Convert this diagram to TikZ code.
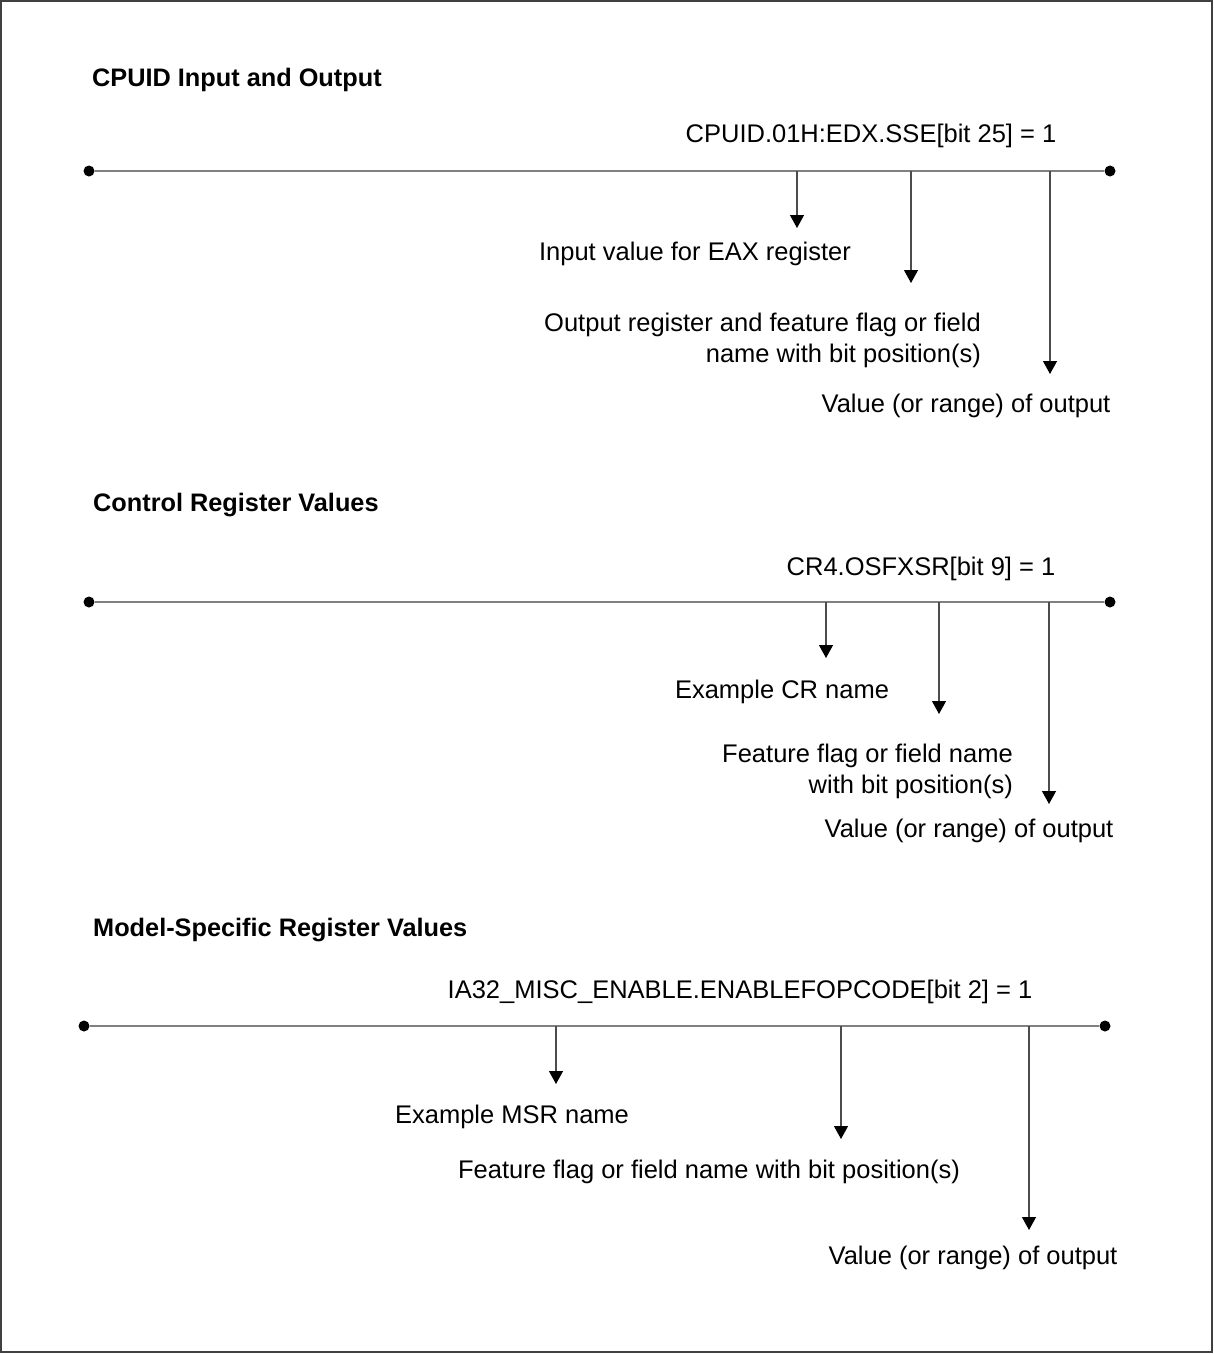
\documentclass[tikz,border=0pt]{standalone}
\usepackage{fontspec}
\setmainfont{Liberation Sans}
\usetikzlibrary{arrows.meta}
\usetikzlibrary{positioning}

\tikzset{
  lbl/.style={font=\fontsize{25.5}{31}\selectfont, inner sep=0pt},
  ttl/.style={font=\fontsize{25.3}{31}\selectfont\bfseries, inner sep=0pt, anchor=base west},
  bar/.style={draw=black!50, line width=1.6pt},
  pin/.style={draw=black!70, line width=1.2pt, -{Triangle[length=13pt,width=14pt,color=black]}},
  dot/.style={circle, fill=black, inner sep=0pt, minimum size=11pt}
}

\begin{document}
\begin{tikzpicture}[x=1pt,y=-1pt]
\useasboundingbox (0,0) rectangle (1214,1354);
\draw[black!75, line width=2pt] (1,1) rectangle (1212,1352);

% CPUID input and output
\node[ttl] (cpuidttl) at (92,86) {CPUID Input and Output};
\node[lbl, anchor=base] (cpuidex) at (871,142) {CPUID.01H:EDX.SSE[bit 25] = 1};
\node[dot] (cpuidl) at (89,171) {};
\node[dot] (cpuidr) at (1110,171) {};
\draw[bar] (cpuidl) -- (cpuidr);
\coordinate (cpuida) at (797,171);
\coordinate (cpuidat) at (797,228);
\coordinate (cpuidb) at (911,171);
\coordinate (cpuidbt) at (911,283);
\coordinate (cpuidc) at (1050,171);
\coordinate (cpuidct) at (1050,374);
\draw[pin] (cpuida) -- (cpuidat);
\draw[pin] (cpuidb) -- (cpuidbt);
\draw[pin] (cpuidc) -- (cpuidct);
\node[lbl, anchor=base] (cpuideax) at (695,260) {Input value for EAX register};
\node[lbl, anchor=east, align=right] (cpuidreg) at (981,340) {Output register and feature flag or field\\name with bit position(s)};
\node[lbl, anchor=base] (cpuidval) at (966,412) {Value (or range) of output};

% control register values
\node[ttl] (crttl) at (93,511) {Control Register Values};
\node[lbl, anchor=base] (crex) at (921,575) {CR4.OSFXSR[bit 9] = 1};
\node[dot] (crl) at (89,602) {};
\node[dot] (crr) at (1110,602) {};
\draw[bar] (crl) -- (crr);
\coordinate (cra) at (826,602);
\coordinate (crat) at (826,658);
\coordinate (crb) at (939,602);
\coordinate (crbt) at (939,714);
\coordinate (crc) at (1049,602);
\coordinate (crct) at (1049,804);
\draw[pin] (cra) -- (crat);
\draw[pin] (crb) -- (crbt);
\draw[pin] (crc) -- (crct);
\node[lbl, anchor=base] (crname) at (782,698) {Example CR name};
\node[lbl, anchor=east, align=right] (crflag) at (1013,771) {Feature flag or field name\\with bit position(s)};
\node[lbl, anchor=base] (crval) at (969,837) {Value (or range) of output};

% model-specific register values
\node[ttl] (msrttl) at (93,936) {Model-Specific Register Values};
\node[lbl, anchor=base] (msrex) at (740,998) {IA32\_MISC\_ENABLE.ENABLEFOPCODE[bit 2] = 1};
\node[dot] (msrl) at (84,1026) {};
\node[dot] (msrr) at (1105,1026) {};
\draw[bar] (msrl) -- (msrr);
\coordinate (msra) at (556,1026);
\coordinate (msrat) at (556,1084);
\coordinate (msrb) at (841,1026);
\coordinate (msrbt) at (841,1139);
\coordinate (msrc) at (1029,1026);
\coordinate (msrct) at (1029,1230);
\draw[pin] (msra) -- (msrat);
\draw[pin] (msrb) -- (msrbt);
\draw[pin] (msrc) -- (msrct);
\node[lbl, anchor=base] (msrname) at (512,1123) {Example MSR name};
\node[lbl, anchor=base] (msrflag) at (709,1178) {Feature flag or field name with bit position(s)};
\node[lbl, anchor=base] (msrval) at (973,1264) {Value (or range) of output};
\end{tikzpicture}
\end{document}
